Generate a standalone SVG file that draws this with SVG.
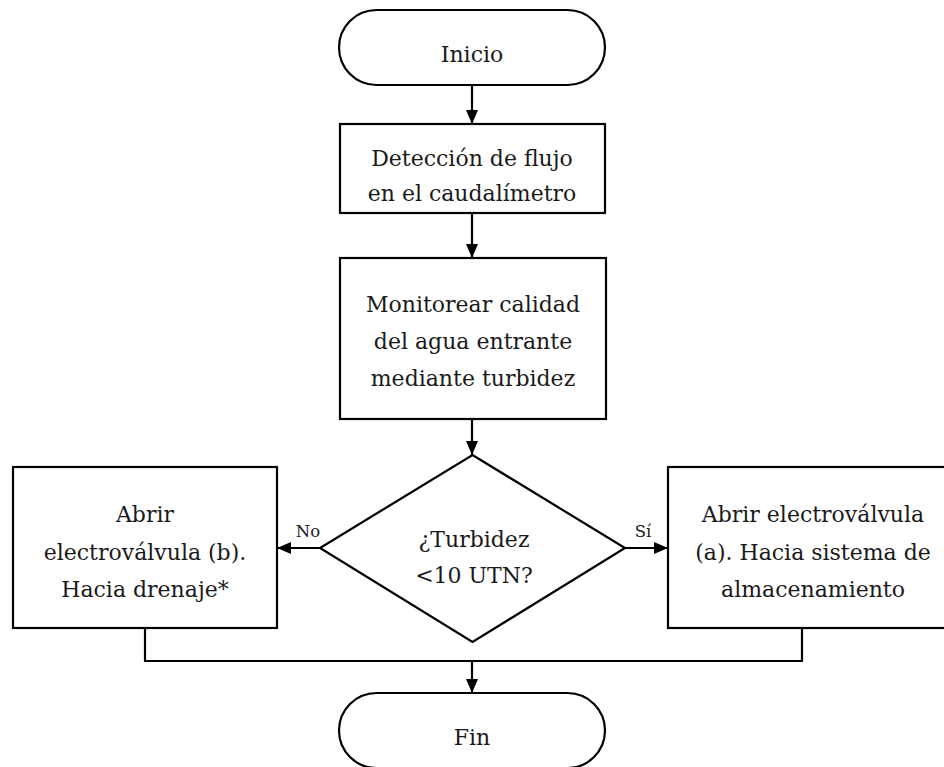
<svg xmlns="http://www.w3.org/2000/svg" width="944" height="767" viewBox="0 0 944 767">
<style>
.s{fill:#fff;stroke:#000;stroke-width:2.2}
.t{font-family:'DejaVu Serif','Liberation Serif',serif;font-size:22px;fill:#1a1a1a;text-anchor:middle}
.l{font-family:'DejaVu Serif','Liberation Serif',serif;font-size:16.5px;fill:#1a1a1a;text-anchor:middle}
.c{fill:none;stroke:#000;stroke-width:2.2}
</style>
<defs>
<marker id="a" viewBox="0 0 14 12" refX="14" refY="6" markerWidth="14" markerHeight="12" markerUnits="userSpaceOnUse" orient="auto">
<path d="M0,0 L14,6 L0,12 Z" fill="#000"/>
</marker>
</defs>
<rect width="944" height="767" fill="#fff"/>
<g id="connectors">
<path class="c" d="M472,85 V124" marker-end="url(#a)"/>
<path class="c" d="M472,213 V258" marker-end="url(#a)"/>
<path class="c" d="M472,419 V455" marker-end="url(#a)"/>
<path class="c" d="M320,548 H277" marker-end="url(#a)"/>
<path class="c" d="M625,548 H668" marker-end="url(#a)"/>
<path class="c" d="M145,628 V661 H802 V628"/>
<path class="c" d="M472,661 V693" marker-end="url(#a)"/>
<text class="l" x="308" y="537">No</text>
<text class="l" x="643" y="537">Sí</text>
</g>
<g id="inicio">
<rect class="s" x="339" y="10" width="266" height="75" rx="37.5" ry="37.5"/>
<text class="t" x="472" y="62">Inicio</text>
</g>
<g id="deteccion">
<rect class="s" x="340" y="124" width="265" height="89"/>
<text class="t" x="472" y="166">Detección de flujo</text>
<text class="t" x="472" y="201">en el caudalímetro</text>
</g>
<g id="monitorear">
<rect class="s" x="340" y="258" width="266" height="161"/>
<text class="t" x="473" y="312">Monitorear calidad</text>
<text class="t" x="473" y="349">del agua entrante</text>
<text class="t" x="473" y="386">mediante turbidez</text>
</g>
<g id="decision">
<polygon class="s" points="472.5,455 625,548 472.5,642 320,548"/>
<text class="t" x="474" y="547">¿Turbidez</text>
<text class="t" x="474" y="583">&lt;10 UTN?</text>
</g>
<g id="drenaje">
<rect class="s" x="13" y="467" width="264" height="161"/>
<text class="t" x="145" y="522">Abrir</text>
<text class="t" x="145" y="560">electroválvula (b).</text>
<text class="t" x="145" y="597">Hacia drenaje*</text>
</g>
<g id="almacenamiento">
<rect class="s" x="668" y="467" width="290" height="161"/>
<text class="t" x="813" y="522">Abrir electroválvula</text>
<text class="t" x="813" y="560">(a). Hacia sistema de</text>
<text class="t" x="813" y="597">almacenamiento</text>
</g>
<g id="fin">
<rect class="s" x="339" y="693" width="266" height="75" rx="37.5" ry="37.5"/>
<text class="t" x="472" y="745">Fin</text>
</g>
</svg>
